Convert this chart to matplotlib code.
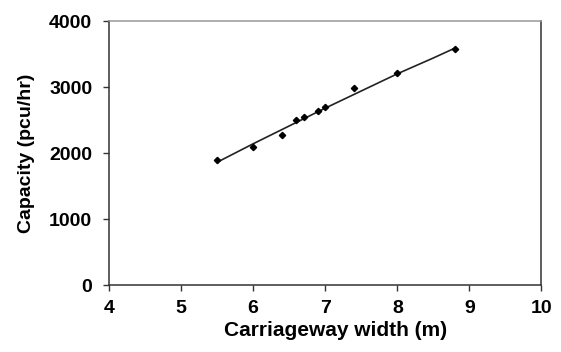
import matplotlib
matplotlib.use("Agg")
import matplotlib.pyplot as plt

plt.rcParams['font.family'] = ['Liberation Sans', 'DejaVu Sans']

width_m = [5.5, 6.0, 6.4, 6.6, 6.7, 6.9, 7.0, 7.4, 8.0, 8.8]
capacity = [1890, 2090, 2280, 2500, 2540, 2640, 2690, 2990, 3210, 3580]

fit_x = [5.5, 6.0, 6.5, 7.0, 7.5, 8.0, 8.5, 8.8]
fit_y = [1860, 2140, 2410, 2680, 2940, 3200, 3440, 3590]

xticks = [4, 5, 6, 7, 8, 9, 10]
yticks = [0, 1000, 2000, 3000, 4000]

fig = plt.figure(figsize=(5.61, 3.52), dpi=100)
ax = fig.add_axes([0.1943, 0.1903, 0.9652 - 0.1943, 0.9403 - 0.1903])

ax.plot(fit_x, fit_y, color='#222222', lw=1.2, zorder=2)
ax.plot(width_m, capacity, linestyle='none', marker='D', markersize=3.2,
        color='black', zorder=3)

ax.set_xlim(4, 10)
ax.set_ylim(0, 4000)
ax.set_xticks(xticks)
ax.set_yticks(yticks)
ax.set_xticklabels([str(t) for t in xticks])
ax.set_yticklabels([str(t) for t in yticks])

for lab in ax.get_xticklabels() + ax.get_yticklabels():
    lab.set_fontweight('bold')
    lab.set_fontsize(14)

ax.tick_params(direction='out', length=4, width=1, color='#333333')
ax.tick_params(axis='y', pad=8)
ax.tick_params(axis='x', pad=7)

for side in ['left', 'bottom', 'right']:
    ax.spines[side].set_color('#333333')
    ax.spines[side].set_linewidth(1.1)
ax.spines['top'].set_color('#999999')
ax.spines['top'].set_linewidth(1.1)

ax.set_xlabel('Carriageway width (m)', fontsize=15, fontweight='bold', labelpad=0)
ax.xaxis.set_label_coords(0.525, -0.135)
ax.xaxis.label.set_verticalalignment('top')
ax.set_ylabel('Capacity (pcu/hr)', fontsize=14, fontweight='bold', labelpad=10)

fig.savefig('out.png', dpi=100)
